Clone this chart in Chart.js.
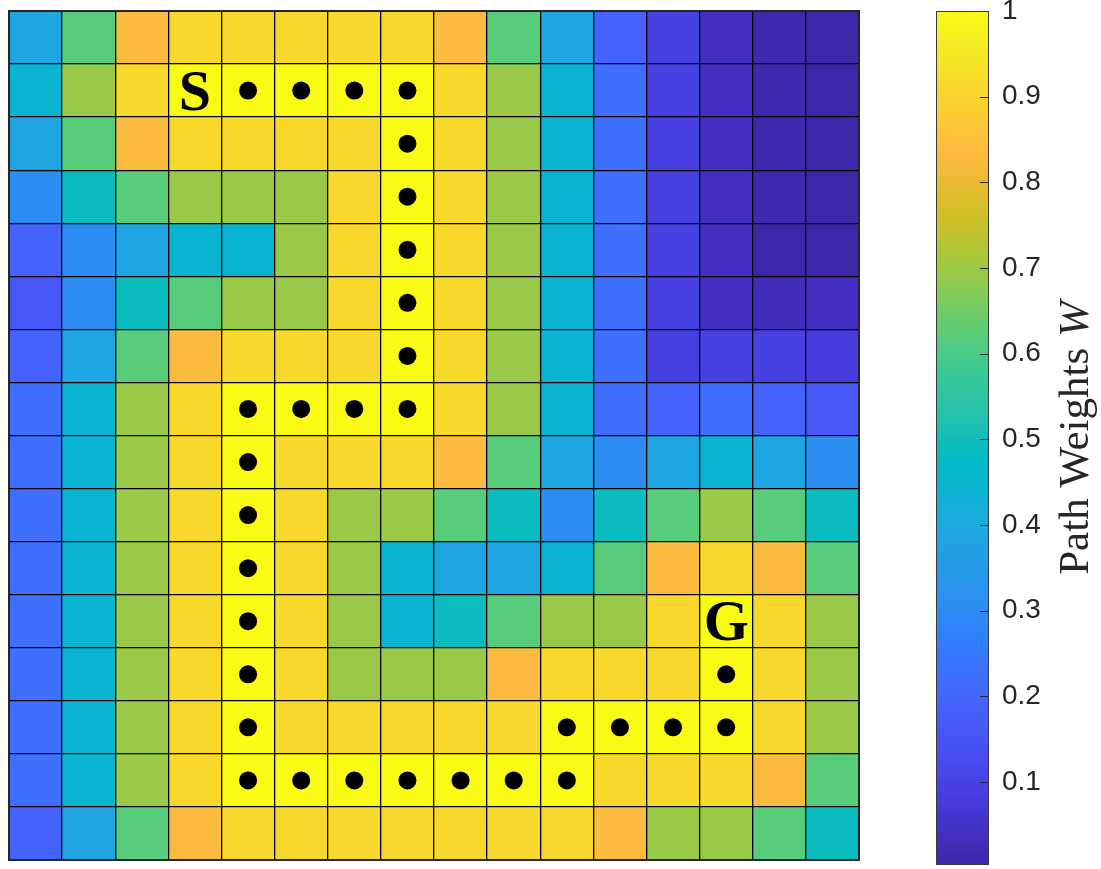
<!DOCTYPE html>
<html>
<head>
<meta charset="utf-8">
<script src="https://cdn.jsdelivr.net/npm/chart.js@4.4.0/dist/chart.umd.min.js"></script>
<style>
html,body{margin:0;padding:0;background:#fff;width:1101px;height:869px;overflow:hidden;}
#main{position:absolute;left:0;top:0;width:870px;height:869px;}
#cbar{position:absolute;left:900px;top:0;width:201px;height:869px;}
</style>
</head>
<body>
<div id="main"><canvas id="c1"></canvas></div>
<div id="cbar"><canvas id="c2"></canvas></div>
<script>
// ---- data ----
const columns = ['1','2','3','4','5','6','7','8','9','10','11','12','13','14','15','16'];
const rowW01 = [0.385,0.62,0.83,0.91,0.91,0.91,0.91,0.91,0.83,0.62,0.385,0.19,0.09,0.035,0.01,0.003];
const rowW02 = [0.445,0.695,0.91,1,1,1,1,1,0.91,0.695,0.445,0.225,0.09,0.035,0.01,0.003];
const rowW03 = [0.385,0.62,0.83,0.91,0.91,0.91,0.91,1,0.91,0.695,0.445,0.225,0.09,0.035,0.01,0.003];
const rowW04 = [0.305,0.49,0.62,0.695,0.695,0.695,0.91,1,0.91,0.695,0.445,0.225,0.09,0.035,0.01,0.003];
const rowW05 = [0.19,0.305,0.385,0.445,0.445,0.695,0.91,1,0.91,0.695,0.445,0.225,0.09,0.035,0.003,0.003];
const rowW06 = [0.155,0.305,0.49,0.62,0.695,0.695,0.91,1,0.91,0.695,0.445,0.225,0.09,0.035,0.03,0.035];
const rowW07 = [0.19,0.385,0.62,0.83,0.91,0.91,0.91,1,0.91,0.695,0.445,0.225,0.09,0.095,0.095,0.08];
const rowW08 = [0.225,0.445,0.695,0.91,1,1,1,1,0.91,0.695,0.445,0.225,0.19,0.225,0.19,0.155];
const rowW09 = [0.225,0.445,0.695,0.91,1,0.91,0.91,0.91,0.83,0.62,0.385,0.305,0.385,0.445,0.385,0.305];
const rowW10 = [0.225,0.445,0.695,0.91,1,0.91,0.695,0.695,0.62,0.49,0.305,0.49,0.62,0.695,0.62,0.49];
const rowW11 = [0.225,0.445,0.695,0.91,1,0.91,0.695,0.445,0.385,0.385,0.445,0.62,0.83,0.91,0.83,0.62];
const rowW12 = [0.225,0.445,0.695,0.91,1,0.91,0.695,0.445,0.49,0.62,0.695,0.695,0.91,1,0.91,0.695];
const rowW13 = [0.225,0.445,0.695,0.91,1,0.91,0.695,0.695,0.695,0.83,0.91,0.91,0.91,1,0.91,0.695];
const rowW14 = [0.225,0.445,0.695,0.91,1,0.91,0.91,0.91,0.91,0.91,1,1,1,1,0.91,0.695];
const rowW15 = [0.225,0.445,0.695,0.91,1,1,1,1,1,1,1,0.91,0.91,0.91,0.83,0.62];
const rowW16 = [0.19,0.385,0.62,0.83,0.91,0.91,0.91,0.91,0.91,0.91,0.91,0.83,0.695,0.695,0.62,0.49];
const pathRows = [1,1,1,1,2,3,4,5,6,7,7,7,7,8,9,10,11,12,13,14,14,14,14,14,14,14,13,13,13,13,12];
const pathCols = [4,5,6,7,7,7,7,7,7,7,6,5,4,4,4,4,4,4,4,4,5,6,7,8,9,10,10,11,12,13,13];
const markerLabels = ['S','G'];
const markerRows = [1,11];
const markerCols = [3,13];
const cbarTicks = [0.1,0.2,0.3,0.4,0.5,0.6,0.7,0.8,0.9,1];
const cbarTickLabels = ['0.1','0.2','0.3','0.4','0.5','0.6','0.7','0.8','0.9','1'];
const cbarTitle = 'Path Weights ';
const cbarTitleVar = 'W';

const W = [rowW01,rowW02,rowW03,rowW04,rowW05,rowW06,rowW07,rowW08,rowW09,rowW10,rowW11,rowW12,rowW13,rowW14,rowW15,rowW16];
const allW = W.flat();
const cmin = Math.min(...allW), cmax = Math.max(...allW);

// parula colormap anchors (index of 256, r, g, b)
const PARULA = [
[0,0.2422,0.1504,0.6603],[8,0.2576,0.1814,0.7501],[16,0.2704,0.2138,0.8346],[24,0.2781,0.2543,0.8973],
[32,0.2813,0.2985,0.9397],[40,0.2798,0.3421,0.9702],[48,0.2710,0.3860,0.9898],[56,0.2473,0.4319,0.9983],
[64,0.2006,0.4803,0.9906],[72,0.1795,0.5244,0.9709],[80,0.1716,0.5655,0.9393],[88,0.1475,0.6043,0.9113],
[96,0.1288,0.6408,0.8910],[104,0.1009,0.6750,0.8653],[112,0.0433,0.7039,0.8242],[120,0.0018,0.7275,0.7752],
[128,0.0770,0.7468,0.7224],[136,0.1609,0.7635,0.6671],[144,0.2061,0.7808,0.6065],[152,0.2695,0.7951,0.5360],
[160,0.3671,0.8021,0.4563],[168,0.4753,0.8011,0.3691],[176,0.5886,0.7913,0.2833],[184,0.6963,0.7750,0.2075],
[192,0.7945,0.7554,0.1570],[200,0.8804,0.7372,0.1650],[208,0.9523,0.7284,0.2237],[212,0.9842,0.7330,0.2446],
[216,0.9971,0.7513,0.2309],[224,0.9938,0.7974,0.1974],[232,0.9748,0.8467,0.1726],[240,0.9601,0.8963,0.1507],
[248,0.9642,0.9437,0.1216],[255,0.9769,0.9839,0.0805]];
function cmapT(t){
  t = Math.max(0, Math.min(1, t));
  const x = t*255;
  for (let i=0;i<PARULA.length-1;i++){
    const a = PARULA[i], b = PARULA[i+1];
    if (x >= a[0] && x <= b[0]) {
      const f = (x-a[0])/(b[0]-a[0]);
      const c = [1,2,3].map(k => Math.round(255*(a[k] + f*(b[k]-a[k]))));
      return 'rgb('+c.join(',')+')';
    }
  }
  const l = PARULA[PARULA.length-1];
  return 'rgb('+[1,2,3].map(k=>Math.round(255*l[k])).join(',')+')';
}
function colorOf(v){ return cmapT((v-cmin)/(cmax-cmin)); }

// ---- main heatmap ----
const cellSets = W.map((row, r) => ({
  type: 'bar',
  data: row.map(() => [r, r+1]),
  backgroundColor: row.map(colorOf),
  borderWidth: 0,
  grouped: false,
  barPercentage: 1,
  categoryPercentage: 1,
  order: 2
}));
const dotSet = {
  type: 'scatter',
  data: pathRows.map((r,i) => ({x: columns[pathCols[i]], y: r + 0.5})),
  backgroundColor: '#000',
  borderWidth: 0,
  pointRadius: 9,
  pointHoverRadius: 9,
  order: 0
};

const markerPlugin = {
  id: 'markers',
  afterDatasetsDraw(chart){
    const {ctx, scales:{x, y}} = chart;
    ctx.save();
    ctx.fillStyle = '#000';
    ctx.font = 'bold 58px "Liberation Serif", "Times New Roman", serif';
    ctx.textAlign = 'center';
    ctx.textBaseline = 'alphabetic';
    markerLabels.forEach((lab, i) => {
      const px = x.getPixelForValue(markerCols[i]);
      const py = y.getPixelForValue(markerRows[i] + 0.5);
      ctx.fillText(lab, px, py + 19);
    });
    ctx.restore();
  },
  afterDraw(chart){
    const {ctx, chartArea:a} = chart;
    ctx.save();
    ctx.strokeStyle = '#262626';
    ctx.lineWidth = 2;
    ctx.strokeRect(a.left, a.top, a.right - a.left, a.bottom - a.top);
    ctx.restore();
  }
};

new Chart(document.getElementById('c1'), {
  type: 'bar',
  data: { labels: columns, datasets: [dotSet, ...cellSets] },
  options: {
    responsive: true,
    maintainAspectRatio: false,
    animation: false,
    events: [],
    layout: { padding: { left: 4, top: 11, right: 11, bottom: 3 } },
    plugins: { legend: { display: false }, tooltip: { enabled: false } },
    scales: {
      x: {
        type: 'category', offset: true,
        ticks: { display: false },
        grid: { display: true, offset: true, color: '#000', lineWidth: 1.3, drawTicks: false, z: 1 },
        border: { display: false }
      },
      y: {
        type: 'linear', min: 0, max: 16, reverse: true,
        ticks: { display: false, stepSize: 1 },
        grid: { display: true, color: '#000', lineWidth: 1.3, drawTicks: false, z: 1 },
        border: { display: false }
      }
    }
  },
  plugins: [markerPlugin]
});

// ---- colorbar ----
const cbarPlugin = {
  id: 'cbarDeco',
  afterDraw(chart){
    const {ctx, chartArea:a, scales:{y}} = chart;
    ctx.save();
    ctx.strokeStyle = '#262626';
    ctx.lineWidth = 1;
    cbarTicks.forEach(v => {
      const py = Math.round(y.getPixelForValue(v)) + 0.5;
      ctx.beginPath();
      ctx.moveTo(a.right - 9, py);
      ctx.lineTo(a.right, py);
      ctx.stroke();
    });
    ctx.strokeStyle = '#3a3a3a';
    ctx.strokeRect(a.left + 0.5, a.top + 0.5, a.right - a.left - 1, a.bottom - a.top - 1);
    // title
    const cy = (a.top + a.bottom) / 2;
    ctx.translate(188, cy);
    ctx.rotate(-Math.PI/2);
    ctx.fillStyle = '#262626';
    ctx.textBaseline = 'alphabetic';
    ctx.textAlign = 'left';
    const fReg = '43px "Liberation Serif", "Times New Roman", serif';
    const fIt = 'italic 43px "Liberation Serif", "Times New Roman", serif';
    ctx.font = fReg; const w1 = ctx.measureText(cbarTitle).width;
    ctx.font = fIt; const w2 = ctx.measureText(cbarTitleVar).width;
    const x0 = -(w1 + w2) / 2;
    ctx.font = fReg; ctx.fillText(cbarTitle, x0, 0);
    ctx.font = fIt; ctx.fillText(cbarTitleVar, x0 + w1, 0);
    ctx.restore();
  }
};

new Chart(document.getElementById('c2'), {
  type: 'bar',
  data: {
    labels: ['cbar'],
    datasets: [{
      data: [[cmin, cmax]],
      borderWidth: 0,
      barPercentage: 1,
      categoryPercentage: 1,
      backgroundColor(context){
        const chart = context.chart;
        const y = chart.scales.y;
        if (!chart.chartArea || !y) return '#888';
        const g = chart.ctx.createLinearGradient(0, y.getPixelForValue(cmin), 0, y.getPixelForValue(cmax));
        PARULA.forEach(p => g.addColorStop(p[0]/255, 'rgb(' + [1,2,3].map(k=>Math.round(255*p[k])).join(',') + ')'));
        return g;
      }
    }]
  },
  options: {
    responsive: true,
    maintainAspectRatio: false,
    animation: false,
    events: [],
    layout: { padding: { left: 36, top: 11, right: 0, bottom: 4 } },
    plugins: { legend: { display: false }, tooltip: { enabled: false } },
    scales: {
      x: { type: 'category', display: false, offset: true },
      y: {
        type: 'linear', position: 'right', min: cmin, max: cmax,
        afterBuildTicks(scale){ scale.ticks = cbarTicks.map(v => ({ value: v })); },
        afterFit(scale){ scale.width = 112; scale.paddingTop = 0; scale.paddingBottom = 0; },
        ticks: {
          padding: 13,
          color: '#262626',
          font: { family: '"Liberation Sans", Arial, sans-serif', size: 28, lineHeight: 1 },
          callback(value){ const i = cbarTicks.indexOf(value); return i >= 0 ? cbarTickLabels[i] : ''; }
        },
        grid: { drawOnChartArea: false, drawTicks: false, display: true, color: 'rgba(0,0,0,0)' },
        border: { display: false }
      }
    }
  },
  plugins: [cbarPlugin]
});
</script>
</body>
</html>
